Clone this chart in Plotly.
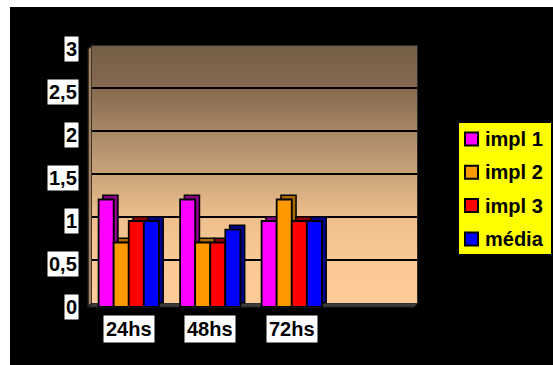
import plotly.graph_objects as go

# ---- data ----
categories = ["24hs", "48hs", "72hs"]
series_names = ["impl 1", "impl 2", "impl 3", "média"]
impl1 = [1.25, 1.25, 1.0]
impl2 = [0.75, 0.75, 1.25]
impl3 = [1.0, 0.75, 1.0]
media = [1.0, 0.9, 1.0]
y_ticks = [0, 0.5, 1, 1.5, 2, 2.5, 3]
y_tick_labels = ["0", "0,5", "1", "1,5", "2", "2,5", "3"]

series_values = [impl1, impl2, impl3, media]
front_colors = ["#FF00FF", "#FF9900", "#FF0000", "#0000FF"]
side_colors = ["#880088", "#A86A00", "#8A0000", "#00008A"]
wall_colors = ["#fecc99", "#f9c894", "#eec08e", "#cba47a", "#a88866", "#86694f", "#755f47"]

W, H = 553, 365
FONT = "Liberation Sans, Arial, sans-serif"


def fx(px):
    return px / W


def fy(py):
    return 1 - py / H


# geometry (pixels)
WALL_X0, WALL_X1, WALL_Y0, WALL_Y1 = 92, 418, 45, 303   # back wall (top, bottom)
DEPTH = 4.3
FR_X0, FR_X1 = WALL_X0 - 4, WALL_X1 - 4
FR_Y0, FR_Y1 = WALL_Y0 + 4, WALL_Y1 + 4
XR = [-0.5, 3.5]
YR = [0, 3]
px_per_x = (FR_X1 - FR_X0) / (XR[1] - XR[0])
px_per_y = (FR_Y1 - FR_Y0) / (YR[1] - YR[0])
dx = DEPTH / px_per_x
dy = DEPTH / px_per_y

bar_w = 0.185
first_off = -2 * bar_w

fig = go.Figure()

# back wall gradient
zvals = [[t / 3, t / 3] for t in y_ticks]
cscale = [[t / 3, c] for t, c in zip(y_ticks, wall_colors)]
fig.add_trace(go.Heatmap(x=XR, y=y_ticks, z=zvals, colorscale=cscale, zsmooth="best",
                         showscale=False, hoverinfo="skip", xaxis="x", yaxis="y"))

# gridlines on wall
gx, gy = [], []
for t in y_ticks[1:-1]:
    gx += [XR[0], XR[1], None]
    gy += [t, t, None]
fig.add_trace(go.Scatter(x=gx, y=gy, mode="lines", line=dict(color="black", width=2.2),
                         hoverinfo="skip", showlegend=False, xaxis="x", yaxis="y"))
# wall border
fig.add_trace(go.Scatter(x=[XR[0], XR[1], XR[1]], y=[YR[1], YR[1], YR[0]], mode="lines",
                         line=dict(color="#2a2a2a", width=2),
                         hoverinfo="skip", showlegend=False, xaxis="x", yaxis="y"))

# bars (3D look: darker back box then front face)
xs = list(range(len(categories)))
for i, (name, vals) in enumerate(zip(series_names, series_values)):
    off = first_off + i * bar_w
    fig.add_trace(go.Bar(x=xs, y=vals, base=[dy] * len(vals), offset=off + dx, width=bar_w,
                         marker=dict(color=side_colors[i], line=dict(color="black", width=1.5)),
                         showlegend=False, hoverinfo="skip", xaxis="x2", yaxis="y2"))
    fig.add_trace(go.Bar(x=xs, y=vals, offset=off, width=bar_w, name=name,
                         marker=dict(color=front_colors[i], line=dict(color="black", width=1.8)),
                         showlegend=False, xaxis="x2", yaxis="y2"))

shapes = []
# black background panel
shapes.append(dict(type="rect", xref="paper", yref="paper", x0=fx(10), x1=1, y0=0, y1=fy(7),
                   fillcolor="black", line=dict(width=0), layer="below"))
# floor
shapes.append(dict(type="path", xref="paper", yref="paper",
                   path=f"M {fx(FR_X0)},{fy(FR_Y1)} L {fx(FR_X1)},{fy(FR_Y1)} L {fx(WALL_X1)},{fy(WALL_Y1)} L {fx(WALL_X0)},{fy(WALL_Y1)} Z",
                   fillcolor="#3c3c3c", line=dict(color="#222222", width=1), layer="below"))
# side wall
shapes.append(dict(type="path", xref="paper", yref="paper",
                   path=f"M {fx(FR_X0)},{fy(FR_Y1)} L {fx(FR_X0)},{fy(FR_Y0)} L {fx(WALL_X0)},{fy(WALL_Y0)} L {fx(WALL_X0)},{fy(WALL_Y1)} Z",
                   fillcolor="#a4825f", line=dict(color="#1a1a1a", width=1.5), layer="below"))

annotations = []
# y tick labels
for t, lbl in zip(y_ticks, y_tick_labels):
    annotations.append(dict(x=fx(79), xref="paper", xanchor="right", y=t, yref="y2", yanchor="middle",
                            text=f"<b>{lbl}</b>", showarrow=False, bgcolor="white", borderpad=1,
                            font=dict(family=FONT, size=20, color="black")))
# x tick labels
for i, c in enumerate(categories):
    annotations.append(dict(x=i, xref="x2", xanchor="center", y=fy(329), yref="paper", yanchor="middle",
                            text=f"<b>{c}</b>", showarrow=False, bgcolor="white", borderpad=2,
                            font=dict(family=FONT, size=20, color="black")))

# legend (drawn manually to match the original's layout)
LEG_X0, LEG_X1, LEG_Y0, LEG_Y1 = 459, 551, 123, 254
shapes.append(dict(type="rect", xref="paper", yref="paper", x0=fx(LEG_X0), x1=fx(LEG_X1),
                   y0=fy(LEG_Y1), y1=fy(LEG_Y0), fillcolor="#FFFF00", line=dict(width=0), layer="above"))
row_y = [139, 172.3, 205.6, 238.9]
for i, name in enumerate(series_names):
    cy = row_y[i]
    shapes.append(dict(type="rect", xref="paper", yref="paper", x0=fx(465), x1=fx(478),
                       y0=fy(cy + 6.5), y1=fy(cy - 6.5), fillcolor=front_colors[i],
                       line=dict(color="black", width=2), layer="above"))
    annotations.append(dict(x=fx(483), xref="paper", xanchor="left", y=fy(cy), yref="paper", yanchor="middle",
                            text=f"<b>{name}</b>", showarrow=False,
                            font=dict(family=FONT, size=20, color="black")))

hidden = dict(showgrid=False, zeroline=False, showticklabels=False, ticks="", showline=False)
fig.update_layout(
    width=W, height=H,
    margin=dict(l=0, r=0, t=0, b=0),
    paper_bgcolor="white", plot_bgcolor="rgba(0,0,0,0)",
    barmode="overlay",
    showlegend=False,
    xaxis=dict(domain=[fx(WALL_X0), fx(WALL_X1)], range=XR, **hidden),
    yaxis=dict(domain=[fy(WALL_Y1), fy(WALL_Y0)], range=YR, **hidden),
    xaxis2=dict(domain=[fx(FR_X0), fx(FR_X1)], range=XR, anchor="y2", **hidden),
    yaxis2=dict(domain=[fy(FR_Y1), fy(FR_Y0)], range=YR, anchor="x2", **hidden),
    shapes=shapes,
    annotations=annotations,
    font=dict(family=FONT),
)

fig.write_html("out.html")
